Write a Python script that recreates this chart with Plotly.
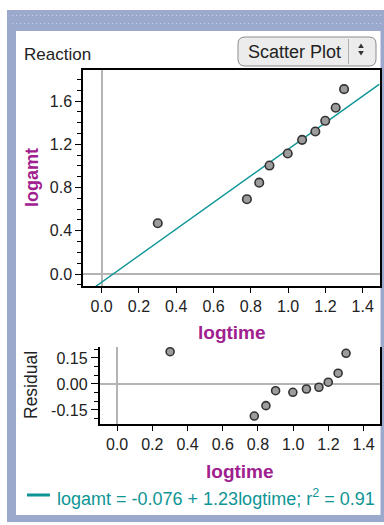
import plotly.graph_objects as go

W, H = 384, 525

# ---- data ----
logtime = [0.301, 0.779, 0.845, 0.900, 0.998, 1.075, 1.146, 1.199, 1.255, 1.300]
logamt = [0.469, 0.692, 0.845, 1.003, 1.115, 1.241, 1.318, 1.417, 1.538, 1.710]
residual = [0.186, -0.185, -0.125, -0.039, -0.048, -0.029, -0.019, 0.010, 0.062, 0.177]
intercept = -0.076
slope = 1.23
r_squared = 0.91

x_range = [-0.1, 1.49]
y_range = [-0.111, 1.887]
res_range = [-0.231, 0.215]
res_ticks = [-0.15, 0.0, 0.15]
res_ticktext = ["-0.15", "0.00", "0.15"]

fit_x = list(x_range)
fit_y = [intercept + slope * v for v in fit_x]

TEAL = "#0f9595"
PURPLE = "#a0208f"
FONT = "Liberation Sans"
TICKCOL = "#222222"


def fx(px):
    return px / W


def fy(py):
    return 1 - py / H


fig = go.Figure()

fig.add_trace(go.Scatter(x=fit_x, y=fit_y, mode="lines",
                         line=dict(color=TEAL, width=1.4),
                         xaxis="x", yaxis="y", hoverinfo="skip"))
fig.add_trace(go.Scatter(x=logtime, y=logamt, mode="markers",
                         marker=dict(size=8.5, color="#9c9c9c",
                                     line=dict(color="#333333", width=1.6)),
                         xaxis="x", yaxis="y"))
fig.add_trace(go.Scatter(x=logtime, y=residual, mode="markers",
                         marker=dict(size=8, color="#9c9c9c",
                                     line=dict(color="#333333", width=1.6)),
                         xaxis="x2", yaxis="y2"))

axis_common = dict(showgrid=False, showline=True, linecolor="black", linewidth=1.5,
                   ticks="outside", tickcolor="black", tickwidth=1.2,
                   zeroline=True, zerolinecolor="#b4b4b4", zerolinewidth=1.5,
                   tickfont=dict(family=FONT, size=16, color=TICKCOL),
                   fixedrange=True)

fig.update_layout(
    width=W, height=H,
    margin=dict(l=0, r=0, t=0, b=0),
    paper_bgcolor="white", plot_bgcolor="rgba(0,0,0,0)",
    showlegend=False,
    xaxis=dict(domain=[fx(83), fx(379.5)], anchor="y", range=x_range,
               tickmode="linear", tick0=0, dtick=0.2, tickformat=".1f",
               ticklen=5, mirror=True, **axis_common),
    yaxis=dict(domain=[fy(286), fy(70)], anchor="x", range=y_range,
               tickmode="linear", tick0=0, dtick=0.4, tickformat=".1f",
               ticklen=6, mirror=True,
               minor=dict(tickmode="linear", tick0=0, dtick=0.1, ticklen=4,
                          ticks="outside", tickcolor="black", tickwidth=1.2),
               **axis_common),
    xaxis2=dict(domain=[fx(99.5), fx(379.5)], anchor="y2", range=x_range,
                tickmode="linear", tick0=0, dtick=0.2, tickformat=".1f",
                ticklen=5, mirror=False, **axis_common),
    yaxis2=dict(domain=[fy(424), fy(346.7)], anchor="x2", range=res_range,
                tickmode="array", tickvals=res_ticks, ticktext=res_ticktext,
                ticklen=7, mirror=True,
                minor=dict(tickmode="linear", tick0=0, dtick=0.05, ticklen=4,
                           ticks="outside", tickcolor="black", tickwidth=1.2),
                **axis_common),
)

shapes = []
# outer blue frame and white panel
shapes.append(dict(type="rect", xref="paper", yref="paper", layer="below",
                   x0=fx(7), x1=fx(384), y0=fy(522), y1=fy(10),
                   fillcolor="#9aa9cc", line=dict(width=0)))
shapes.append(dict(type="rect", xref="paper", yref="paper", layer="below",
                   x0=fx(16), x1=fx(380.5), y0=fy(515), y1=fy(31),
                   fillcolor="white", line=dict(width=0)))
for py in (15.5, 23.5):
    shapes.append(dict(type="line", xref="paper", yref="paper", layer="below",
                       x0=fx(12), x1=fx(382), y0=fy(py), y1=fy(py),
                       line=dict(color="#c4cee8", width=1.2, dash="1.2px,2.8px")))

# popup button
bx0, bx1, by0, by1, r = 238, 376, 37, 66, 7
path = (f"M {fx(bx0 + r)},{fy(by0)} L {fx(bx1 - r)},{fy(by0)} "
        f"Q {fx(bx1)},{fy(by0)} {fx(bx1)},{fy(by0 + r)} "
        f"L {fx(bx1)},{fy(by1 - r)} Q {fx(bx1)},{fy(by1)} {fx(bx1 - r)},{fy(by1)} "
        f"L {fx(bx0 + r)},{fy(by1)} Q {fx(bx0)},{fy(by1)} {fx(bx0)},{fy(by1 - r)} "
        f"L {fx(bx0)},{fy(by0 + r)} Q {fx(bx0)},{fy(by0)} {fx(bx0 + r)},{fy(by0)} Z")
shapes.append(dict(type="path", xref="paper", yref="paper", path=path,
                   fillcolor="#ececec", line=dict(color="#8c8c8c", width=1)))
shapes.append(dict(type="line", xref="paper", yref="paper",
                   x0=fx(348.5), x1=fx(348.5), y0=fy(39), y1=fy(64),
                   line=dict(color="#b0b0b0", width=1)))
ax, aw = 361, 2.8
shapes.append(dict(type="path", xref="paper", yref="paper",
                   path=f"M {fx(ax - aw)},{fy(48)} L {fx(ax + aw)},{fy(48)} L {fx(ax)},{fy(43.5)} Z",
                   fillcolor="#333333", line=dict(width=0)))
shapes.append(dict(type="path", xref="paper", yref="paper",
                   path=f"M {fx(ax - aw)},{fy(51)} L {fx(ax + aw)},{fy(51)} L {fx(ax)},{fy(55.5)} Z",
                   fillcolor="#333333", line=dict(width=0)))

# legend swatch
shapes.append(dict(type="line", xref="paper", yref="paper",
                   x0=fx(27), x1=fx(50), y0=fy(495), y1=fy(495),
                   line=dict(color=TEAL, width=3)))
fig.update_layout(shapes=shapes)

ann = []
ann.append(dict(text="Reaction", x=fx(22), y=fy(54), xref="paper", yref="paper",
                xanchor="left", yanchor="middle", showarrow=False,
                font=dict(family=FONT, size=17, color="#222222")))
ann.append(dict(text="Scatter Plot", x=fx(294), y=fy(51.5), xref="paper", yref="paper",
                xanchor="center", yanchor="middle", showarrow=False,
                font=dict(family=FONT, size=18, color="#222222")))
ann.append(dict(text="<b>logamt</b>", x=fx(32), y=fy(178), xref="paper", yref="paper",
                xanchor="center", yanchor="middle", showarrow=False, textangle=-90,
                font=dict(family=FONT, size=18, color=PURPLE)))
ann.append(dict(text="<b>logtime</b>", x=fx(231.5), y=fy(333), xref="paper", yref="paper",
                xanchor="center", yanchor="middle", showarrow=False,
                font=dict(family=FONT, size=19, color=PURPLE)))
ann.append(dict(text="Residual", x=fx(31), y=fy(385), xref="paper", yref="paper",
                xanchor="center", yanchor="middle", showarrow=False, textangle=-90,
                font=dict(family=FONT, size=17.5, color="#222222")))
ann.append(dict(text="<b>logtime</b>", x=fx(239.5), y=fy(471.5), xref="paper", yref="paper",
                xanchor="center", yanchor="middle", showarrow=False,
                font=dict(family=FONT, size=19, color=PURPLE)))
ann.append(dict(text=f"logamt = {intercept:.3f} + {slope:.2f}logtime; r<sup>2</sup> = {r_squared:.2f}",
                x=fx(55), y=fy(497), xref="paper", yref="paper",
                xanchor="left", yanchor="middle", showarrow=False,
                font=dict(family=FONT, size=18, color=TEAL)))
fig.update_layout(annotations=ann)

fig.write_html("out.html")
